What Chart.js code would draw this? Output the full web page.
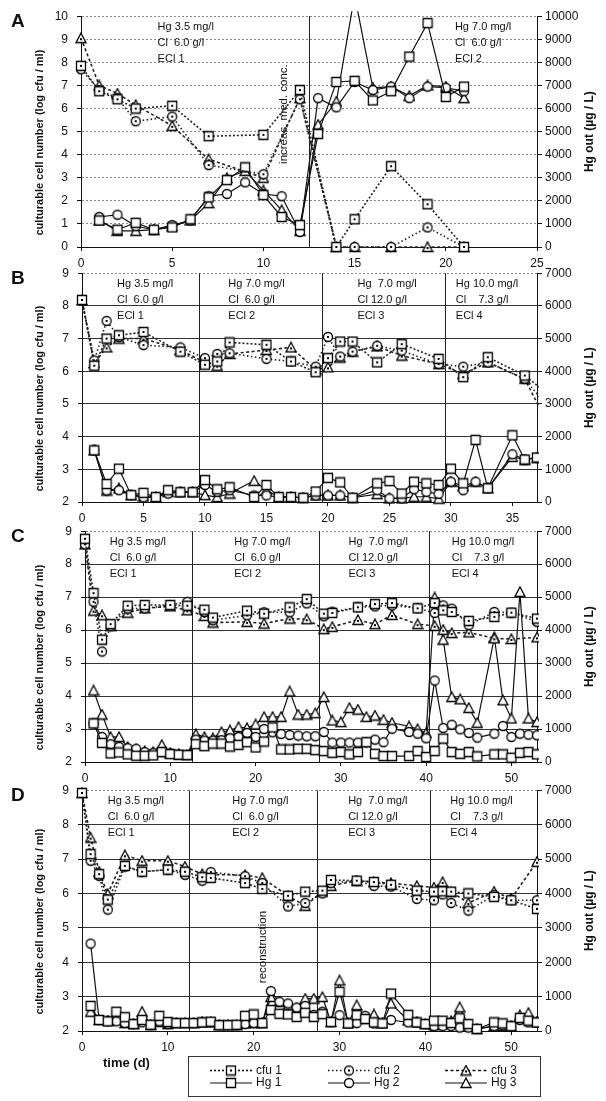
<!DOCTYPE html>
<html>
<head>
<meta charset="utf-8">
<script src="https://cdn.jsdelivr.net/npm/chart.js@4.4.0/dist/chart.umd.min.js"></script>
<style>
  body { margin: 0; background: #fff; width: 606px; height: 1101px; position: relative; overflow: hidden;
         font-family: "Liberation Sans", Arial, sans-serif; }
  canvas { position: absolute; left: 0; }
  #timeLabel { position: absolute; left: 103px; top: 1055px; font-weight: bold; font-size: 13px; color: #111; }
</style>
</head>
<body>
<canvas id="cA" width="606" height="272" style="top:0px"></canvas>
<canvas id="cB" width="606" height="272" style="top:257px"></canvas>
<canvas id="cC" width="606" height="272" style="top:515px"></canvas>
<canvas id="cD" width="606" height="290" style="top:774px"></canvas>
<div id="timeLabel">time (d)</div>
<canvas id="legend" width="354" height="42" style="left:188px;top:1056px"></canvas>
<script>
// ---- panel A ----
const aCfuDays = [0, 1, 2, 3, 5, 7, 10, 12, 14, 15, 17, 19, 21];
const aCfu1 = [7.85, 6.75, 6.4, 6.0, 6.12, 4.8, 4.86, 6.8, 0, 1.2, 3.5, 1.85, 0];
const aCfu2 = [7.7, 6.8, 6.45, 5.45, 5.65, 3.55, 3.15, 6.4, 0, 0, 0, 0.85, 0];
const aCfu3 = [9.05, 7.0, 6.65, 6.15, 5.25, 3.8, 3.0, 6.45, 0, 0, 0, 0, 0];
const aHgDays = [1, 2, 3, 4, 5, 6, 7, 8, 9, 10, 11, 12, 13, 14, 15, 16, 17, 18, 19, 20, 21];
const aHg1 = [1150, 750, 1050, 750, 850, 1200, 2150, 2900, 3450, 2250, 1300, 950, 4900, 7150, 7200, 6350, 6750, 8250, 9700, 6500, 6950];
const aHg2 = [1300, 1400, 900, 750, 950, 1150, 2200, 2300, 2800, 2300, 2200, 650, 6450, 6050, 7150, 6800, 6950, 6450, 6950, 6900, 6750];
const aHg3 = [1150, 700, 700, 750, 900, 1150, 1900, 3000, 3300, 2450, 1600, 700, 5300, 6300, 10900, 6900, 6950, 6550, 7000, 6950, 6450];

// ---- panel B ----
const bCfuDays = [0, 1, 2, 3, 5, 8, 10, 11, 12, 15, 17, 19, 20, 21, 22, 24, 26, 29, 31, 33, 36, 38];
const bCfu1 = [8.18, 6.17, 7.0, 7.1, 7.2, 6.6, 6.2, 6.3, 6.88, 6.81, 6.3, 5.97, 6.4, 6.91, 6.91, 6.27, 6.83, 6.38, 5.82, 6.43, 5.87, 5.27];
const bCfu2 = [8.18, 6.33, 7.54, 7.05, 6.8, 6.73, 6.4, 6.53, 6.55, 6.38, 6.3, 6.14, 7.05, 6.45, 6.6, 6.78, 6.63, 6.22, 6.14, 6.27, 5.77, 4.85];
const bCfu3 = [8.18, 6.25, 6.73, 7.0, 7.0, 6.65, 6.27, 6.17, 6.53, 6.65, 6.73, 6.05, 6.12, 6.42, 6.6, 6.76, 6.48, 6.22, 5.92, 6.27, 5.77, 4.3];
const bHgDays = [1, 2, 3, 4, 5, 6, 7, 8, 9, 10, 11, 12, 14, 15, 16, 17, 18, 19, 20, 21, 22, 24, 25, 26, 27, 28, 29, 30, 31, 32, 33, 35, 36, 37];
const bHg1 = [1580, 550, 1020, 210, 280, 150, 360, 300, 300, 670, 390, 450, 150, 520, 150, 150, 130, 320, 740, 600, 130, 570, 640, 260, 620, 570, 520, 1020, 570, 1900, 420, 2040, 1300, 1360];
const bHg2 = [1580, 350, 360, 210, 140, 150, 260, 300, 300, 520, 310, 360, 200, 200, 150, 150, 130, 200, 200, 200, 130, 360, 110, 110, 390, 310, 250, 620, 360, 620, 420, 1460, 1300, 1360];
const bHg3 = [1580, 350, 420, 210, 170, 150, 310, 300, 300, 210, 150, 260, 650, 360, 150, 150, 130, 200, 200, 200, 130, 240, 110, 110, 160, 160, 100, 620, 480, 620, 420, 1380, 1300, 1360];

// ---- panel C ----
const cCfuDays = [0, 1, 2, 3, 5, 7, 10, 12, 14, 15, 19, 21, 24, 26, 28, 29, 32, 34, 36, 39, 41, 42, 43, 45, 48, 50, 53];
const cCfu1 = [8.77, 7.12, 5.71, 6.18, 6.74, 6.76, 6.76, 6.74, 6.62, 6.38, 6.59, 6.5, 6.69, 6.94, 6.5, 6.52, 6.69, 6.79, 6.82, 6.66, 6.82, 6.6, 6.55, 6.28, 6.4, 6.53, 6.35];
const cCfu2 = [8.6, 6.86, 5.35, 6.12, 6.65, 6.66, 6.76, 6.86, 6.55, 6.3, 6.45, 6.54, 6.54, 6.81, 6.42, 6.56, 6.69, 6.72, 6.75, 6.66, 6.52, 6.75, 6.65, 6.15, 6.55, 6.53, 6.25];
const cCfu3 = [8.6, 6.59, 6.45, 6.12, 6.53, 6.66, 6.72, 6.6, 6.43, 6.23, 6.25, 6.2, 6.35, 6.33, 6.03, 6.1, 6.31, 6.18, 6.46, 6.18, 6.13, 6.01, 5.91, 5.93, 5.75, 5.73, 5.78];
const cHgDays = [1, 2, 3, 4, 5, 6, 7, 8, 9, 10, 11, 12, 13, 14, 15, 16, 17, 18, 19, 20, 21, 22, 23, 24, 25, 26,
  27, 28, 29, 30, 31, 32, 33, 34, 35, 36, 38, 39, 40, 41, 42, 43, 44, 45, 46, 48, 49, 50, 51, 52, 53, 54];
const cHg1 = [1170, 580, 260, 290, 230, 190, 190, 200, 300, 240, 220, 210, 540, 480, 560, 560, 470, 520, 600, 440, 620, 1050, 380, 380, 400, 400,
  360, 330, 280, 300, 230, 300, 600, 250, 180, 180, 180, 330, 150, 330, 710, 300, 250, 300, 170, 230, 230, 130, 280, 300, 230, null];
const cHg2 = [1170, 760, 540, 460, 420, 400, 300, 280, 300, 260, 230, 210, 680, 650, 650, 660, 720, 760, 880, 760, 1000, 900, 850, 820, 800, 780,
  780, 910, 590, 590, 590, 590, 590, 680, 600, 1010, 910, 860, 720, 2470, 1030, 1130, 990, 880, 740, 860, 1090, 760, 860, 830, 810, null];
const cHg3 = [2170, 1440, 760, 760, 460, 390, 330, 300, 520, 260, 230, 220, 840, 760, 720, 910, 960, 1060, 1030, 1140, 1370, 1370, 1370, 2140, 1440, 1440,
  1480, 1970, 1260, 1210, 1640, 1590, 1370, 1410, 1280, 1190, 1080, 1000, 880, 4990, 3710, 1970, 1900, 1640, 1190, 3780, 1870, 1320, 5160, 1320, 1210, 2600];

// ---- panel D ----
const dCfuDays = [0, 1, 2, 3, 5, 7, 10, 12, 14, 15, 19, 21, 24, 26, 28, 29, 32, 34, 36, 39, 41, 42, 43, 45, 48, 50, 53];
const dCfu1 = [8.92, 7.14, 6.56, 5.82, 6.8, 6.63, 6.69, 6.63, 6.47, 6.45, 6.3, 6.13, 5.93, 6.05, 6.08, 6.39, 6.37, 6.33, 6.25, 6.08, 6.05, 6.06, 6.05, 6.0, 5.9, 5.8, 5.55];
const dCfu2 = [8.92, 6.95, 6.51, 5.53, 6.78, 6.63, 6.69, 6.54, 6.37, 6.62, 6.5, 6.3, 5.62, 5.72, 6.0, 6.3, 6.37, 6.22, 6.2, 5.84, 5.8, 5.97, 5.72, 5.5, 5.95, 5.8, 5.8];
const dCfu3 = [8.92, 7.62, 6.63, 5.98, 7.11, 6.95, 6.95, 6.78, 6.56, 6.55, 6.53, 6.45, 5.93, 5.64, 6.05, 6.22, 6.37, 6.33, 6.3, 6.22, 6.17, 6.33, 6.05, 5.72, 6.05, 5.85, 6.92];
const dHgDays = [1, 2, 3, 4, 5, 6, 7, 8, 9, 10, 11, 12, 13, 14, 15, 16, 17, 18, 19, 20, 21, 22, 23, 24, 25, 26,
  27, 28, 29, 30, 31, 32, 33, 34, 35, 36, 38, 39, 40, 41, 42, 43, 44, 45, 46, 48, 49, 50, 51, 52, 53];
const dHg1 = [730, 320, 280, 560, 400, 200, 320, 180, 440, 260, 230, 230, 230, 250, 270, 170, 170, 180, 440, 480, 230, 610, 500, 480, 410, 530,
  410, 490, 260, 1140, 220, 460, 350, 250, 220, 1090, 470, 250, 200, 300, 300, 230, 370, 200, 60, 250, 220, 140, 380, 300, 250];
const dHg2 = [2540, 320, 280, 280, 230, 200, 250, 180, 280, 200, 230, 230, 230, 250, 250, 170, 170, 170, 200, 230, 230, 1160, 850, 800, 680, 730,
  470, 560, 260, 460, 220, 230, 440, 220, 220, 320, 250, 250, 200, 140, 140, 140, 100, 100, 60, 140, 170, 140, 320, 250, 250];
const dHg3 = [560, 320, 300, 320, 230, 200, 560, 180, 260, 200, 230, 230, 230, 250, 260, 170, 170, 170, 220, 230, 230, 990, 850, 750, 660, 940,
  940, 990, 260, 1470, 220, 750, 350, 480, 220, 800, 310, 250, 200, 170, 200, 290, 690, 170, 60, 140, 150, 140, 460, 530, 250];

const seriesNames = ['cfu 1', 'cfu 2', 'cfu 3', 'Hg 1', 'Hg 2', 'Hg 3'];

// phase boundaries and condition notes
const aPhases = [12.5];
const bPhases = [9.5, 19.5, 29.5];
const cPhases = [12.5, 27.4, 40.3];
const dPhases = [12.5, 27.4, 40.5];
const ecl1 = ['Hg 3.5 mg/l', 'Cl  6.0 g/l', 'ECl 1'];
const ecl2 = ['Hg 7.0 mg/l', 'Cl  6.0 g/l', 'ECl 2'];
const ecl3 = ['Hg  7.0 mg/l', 'Cl 12.0 g/l', 'ECl 3'];
const ecl4 = ['Hg 10.0 mg/l', 'Cl    7.3 g/l', 'ECl 4'];

const FONT = '"Liberation Sans", Arial, sans-serif';
Chart.defaults.font.family = FONT;
Chart.defaults.color = '#111';

// marker images: white shapes, cfu ones get a dot in the middle
function marker(shape, dot) {
  const c = document.createElement('canvas');
  c.width = 12; c.height = 12;
  const g = c.getContext('2d');
  g.fillStyle = '#fff'; g.strokeStyle = '#000'; g.lineWidth = 1.3;
  g.beginPath();
  if (shape === 'rect') g.rect(1.5, 1.5, 9, 9);
  else if (shape === 'circle') g.arc(6, 6, 4.5, 0, Math.PI * 2);
  else { g.moveTo(6, 1); g.lineTo(11, 10.5); g.lineTo(1, 10.5); g.closePath(); }
  g.fill(); g.stroke();
  if (dot) { g.fillStyle = '#000'; g.fillRect(5, shape === 'tri' ? 6 : 5, 2, 2); }
  return c;
}
const cfuMarks = [marker('rect', true), marker('circle', true), marker('tri', true)];
const hgMarks = [marker('rect', false), marker('circle', false), marker('tri', false)];
const cfuDash = [[2, 2], [1.5, 2.5], [3, 2.5]];

const decor = {
  id: 'decor',
  beforeDatasetsDraw(chart, args, o) {
    const { ctx, chartArea: a, scales: { x, y } } = chart;
    ctx.save();
    ctx.strokeStyle = '#222';
    ctx.lineWidth = 1;
    o.phases.forEach(d => {
      const px = Math.round(x.getPixelForValue(d)) + 0.5;
      ctx.beginPath(); ctx.moveTo(px, a.top); ctx.lineTo(px, a.bottom); ctx.stroke();
    });
    ctx.fillStyle = '#111';
    ctx.font = '11px ' + FONT;
    ctx.textBaseline = 'middle';
    ctx.textAlign = 'left';
    o.labels.forEach(l => l.lines.forEach((t, i) => {
      ctx.fillText(t, x.getPixelForValue(l.day), a.top + 11 + i * 16);
    }));
    (o.notes || []).forEach(n => {
      ctx.save();
      ctx.translate(x.getPixelForValue(n.day), y.getPixelForValue(n.value));
      ctx.rotate(-Math.PI / 2);
      ctx.font = '11.5px ' + FONT;
      ctx.fillText(n.text, 0, 0);
      ctx.restore();
    });
    ctx.restore();
  },
  afterDraw(chart, args, o) {
    const { ctx, chartArea: a } = chart;
    const mid = (a.top + a.bottom) / 2;
    ctx.save();
    ctx.fillStyle = '#111';
    ctx.textBaseline = 'middle';
    ctx.font = 'bold 19px ' + FONT;
    ctx.fillText(o.letter, 11, a.top + 6);
    ctx.textAlign = 'center';
    ctx.font = 'bold 11px ' + FONT;
    ctx.save(); ctx.translate(40, mid + 11); ctx.rotate(-Math.PI / 2);
    ctx.fillText('culturable cell number (log cfu / ml)', 0, 0); ctx.restore();
    ctx.font = 'bold 12px ' + FONT;
    ctx.save(); ctx.translate(590, mid); ctx.rotate(-Math.PI / 2);
    ctx.fillText('Hg out (\u00b5g / L)', 0, 0); ctx.restore();
    ctx.restore();
  }
};

function pts(days, vals) {
  return days.map((d, i) => ({ x: d, y: vals[i] }));
}

function makePanel(p) {
  const clip = { left: 10, top: 5, right: 2, bottom: 10 };
  const datasets = [];
  p.cfu.forEach((v, i) => datasets.push({
    label: seriesNames[i], data: pts(p.cfuDays, v), yAxisID: 'y',
    borderColor: '#222', borderWidth: 1.6, borderDash: cfuDash[i],
    pointStyle: cfuMarks[i], pointRadius: 5, tension: 0, clip
  }));
  p.hg.forEach((v, i) => datasets.push({
    label: seriesNames[i + 3], data: pts(p.hgDays, v), yAxisID: 'y2',
    borderColor: '#111', borderWidth: 1.2,
    pointStyle: hgMarks[i], pointRadius: 5, tension: 0, clip
  }));
  const tickFont = { size: 12, family: FONT };
  return new Chart(document.getElementById(p.id), {
    type: 'line',
    data: { datasets },
    plugins: [decor],
    options: {
      responsive: false,
      animation: false,
      devicePixelRatio: 1,
      layout: { padding: { top: 15, bottom: p.padBottom, left: 0, right: 0 } },
      plugins: {
        legend: { display: false },
        tooltip: { enabled: false },
        decor: { letter: p.letter, phases: p.phases, labels: p.labels, notes: p.notes }
      },
      scales: {
        x: {
          type: 'linear', position: 'bottom', min: 0, max: p.xMax,
          afterFit: s => { s.height = 25; },
          ticks: { stepSize: p.xStep, includeBounds: false, autoSkip: false, maxRotation: 0, padding: 5, color: '#111', font: tickFont },
          grid: { drawOnChartArea: false, tickLength: 4, tickColor: '#111' },
          border: { color: '#111', width: 1 }
        },
        y: {
          position: 'left', min: p.yMin, max: p.yMax,
          afterFit: s => { s.width = p.left; },
          ticks: { stepSize: 1, autoSkip: false, padding: 9, color: '#111', font: tickFont },
          grid: {
            color: c => (c.tick && c.tick.value === p.yMin) ? 'rgba(0,0,0,0)'
              : (p.dottedGrid || (c.tick && c.tick.value === p.yMax) ? '#888' : '#333'),
            tickLength: 4, tickColor: '#111'
          },
          border: {
            color: '#111',
            dash: c => (c.tick && (p.dottedGrid || c.tick.value === p.yMax)) ? [2, 2] : []
          }
        },
        y2: {
          position: 'right', min: 0, max: p.y2Max,
          afterFit: s => { s.width = 606 - 537; },
          ticks: { stepSize: 1000, autoSkip: false, padding: 3, color: '#111', font: tickFont,
                   callback: v => String(v) },
          grid: { drawOnChartArea: false, tickLength: 5, tickColor: '#111' },
          border: { color: '#111' }
        }
      }
    }
  });
}

makePanel({
  id: 'cA', letter: 'A', left: 81, xMax: 25, xStep: 5, yMin: 0, yMax: 10, y2Max: 10000, padBottom: 0, dottedGrid: true,
  cfuDays: aCfuDays, cfu: [aCfu1, aCfu2, aCfu3], hgDays: aHgDays, hg: [aHg1, aHg2, aHg3],
  phases: aPhases,
  labels: [{ day: 4.2, lines: ecl1 }, { day: 20.5, lines: ecl2 }],
  notes: [{ day: 11.1, value: 3.6, text: 'increas. med. conc.' }]
});
makePanel({
  id: 'cB', letter: 'B', left: 82, xMax: 37, xStep: 5, yMin: 2, yMax: 9, y2Max: 7000, padBottom: 2, dottedGrid: false,
  cfuDays: bCfuDays, cfu: [bCfu1, bCfu2, bCfu3], hgDays: bHgDays, hg: [bHg1, bHg2, bHg3],
  phases: bPhases,
  labels: [{ day: 2.85, lines: ecl1 }, { day: 11.9, lines: ecl2 }, { day: 22.4, lines: ecl3 }, { day: 30.4, lines: ecl4 }]
});
makePanel({
  id: 'cC', letter: 'C', left: 85, xMax: 53, xStep: 10, yMin: 2, yMax: 9, y2Max: 7000, padBottom: 0, dottedGrid: false,
  cfuDays: cCfuDays, cfu: [cCfu1, cCfu2, cCfu3], hgDays: cHgDays, hg: [cHg1, cHg2, cHg3],
  phases: cPhases,
  labels: [{ day: 2.9, lines: ecl1 }, { day: 17.5, lines: ecl2 }, { day: 30.9, lines: ecl3 }, { day: 43.0, lines: ecl4 }]
});
makePanel({
  id: 'cD', letter: 'D', left: 82, xMax: 53, xStep: 10, yMin: 2, yMax: 9, y2Max: 7000, padBottom: 8, dottedGrid: false,
  cfuDays: dCfuDays, cfu: [dCfu1, dCfu2, dCfu3], hgDays: dHgDays, hg: [dHg1, dHg2, dHg3],
  phases: dPhases,
  labels: [{ day: 3.0, lines: ecl1 }, { day: 17.5, lines: ecl2 }, { day: 31.0, lines: ecl3 }, { day: 42.9, lines: ecl4 }],
  notes: [{ day: 21.1, value: 3.39, text: 'reconstruction' }]
});

// legend box under panel D
(function drawLegend() {
  const g = document.getElementById('legend').getContext('2d');
  g.strokeStyle = '#333'; g.lineWidth = 1;
  g.strokeRect(0.5, 0.5, 352, 40);
  const cols = [22, 140, 257];
  g.font = '12px ' + FONT;
  g.textBaseline = 'middle';
  g.fillStyle = '#111';
  seriesNames.forEach((name, i) => {
    const isCfu = i < 3;
    const c = cols[i % 3];
    const yy = isCfu ? 14.5 : 27;
    g.save();
    g.strokeStyle = '#111';
    g.lineWidth = isCfu ? 1.6 : 1.2;
    g.setLineDash(isCfu ? cfuDash[i] : []);
    g.beginPath(); g.moveTo(c, yy); g.lineTo(c + 42, yy); g.stroke();
    g.restore();
    const m = isCfu ? cfuMarks[i] : hgMarks[i - 3];
    g.drawImage(m, c + 21 - 6, yy - 6);
    g.fillText(name, c + 46, yy);
  });
})();
</script>
</body>
</html>
